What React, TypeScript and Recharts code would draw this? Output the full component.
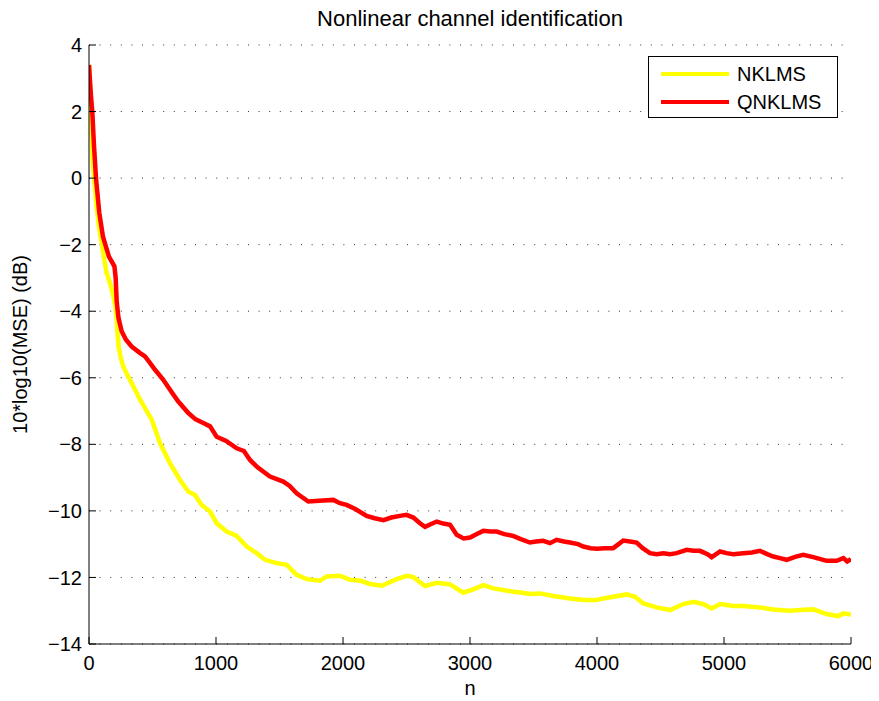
import { CartesianGrid, Line, LineChart, XAxis, YAxis } from "recharts";

// learning curves, MSE in dB against iteration n
const nklmsN = [
  0, 10, 20, 29, 45, 61, 80, 100, 120, 139, 165, 192, 205, 218, 225, 235, 250, 270, 300, 336, 375, 402, 494,
  559, 638, 717, 782, 835, 887, 953, 1005, 1084, 1163, 1242, 1320, 1386, 1478, 1557, 1635, 1714, 1819, 1871,
  1976, 2055, 2140, 2213, 2305, 2423, 2501, 2554, 2646, 2738, 2843, 2947, 3026, 3105, 3184, 3260, 3341, 3400,
  3472, 3551, 3656, 3787, 3892, 3998, 4050, 4128, 4234, 4299, 4365, 4470, 4575, 4680, 4759, 4837, 4903, 4969,
  5073, 5152, 5283, 5388, 5520, 5598, 5703, 5808, 5900, 5940, 5987, 6000,
];
const nklmsDb = [
  3.4, 2.6, 1.4, 0.5, -0.2, -0.9, -1.5, -1.95, -2.45, -2.85, -3.15, -3.55, -3.8, -4.25, -4.7, -5.1, -5.4,
  -5.66, -5.9, -6.16, -6.45, -6.66, -7.26, -7.96, -8.57, -9.07, -9.42, -9.52, -9.82, -10.02, -10.37, -10.62,
  -10.75, -11.07, -11.27, -11.47, -11.57, -11.62, -11.92, -12.05, -12.1, -11.97, -11.95, -12.07, -12.1, -12.2,
  -12.25, -12.05, -11.95, -11.99, -12.26, -12.16, -12.21, -12.46, -12.36, -12.23, -12.33, -12.38, -12.43,
  -12.45, -12.5, -12.48, -12.56, -12.63, -12.68, -12.68, -12.63, -12.58, -12.51, -12.58, -12.78, -12.9,
  -12.98, -12.8, -12.73, -12.8, -12.93, -12.8, -12.86, -12.86, -12.9, -12.96, -13.0, -12.98, -12.96, -13.1,
  -13.16, -13.08, -13.11, -13.08,
];

const qnklmsN = [
  0, 8, 16, 26, 39, 55, 81, 110, 157, 200, 210, 218, 232, 257, 290, 336, 400, 441, 480, 520, 585, 638, 700,
  782, 840, 900, 953, 1005, 1080, 1163, 1220, 1268, 1330, 1425, 1530, 1580, 1635, 1727, 1845, 1924, 1976,
  2029, 2100, 2186, 2250, 2318, 2380, 2449, 2500, 2554, 2606, 2646, 2690, 2738, 2790, 2843, 2895, 2950, 3000,
  3050, 3105, 3160, 3210, 3270, 3339, 3400, 3472, 3520, 3577, 3630, 3682, 3740, 3787, 3850, 3892, 3950, 4000,
  4060, 4128, 4170, 4207, 4260, 4312, 4360, 4417, 4470, 4522, 4575, 4627, 4706, 4760, 4811, 4870, 4903, 4969,
  5020, 5073, 5152, 5220, 5283, 5340, 5388, 5440, 5494, 5560, 5624, 5703, 5760, 5808, 5887, 5940, 5970, 6000,
];
const qnklmsDb = [
  3.4, 2.9, 2.45, 2.0, 1.0, 0.0, -1.04, -1.76, -2.36, -2.65, -3.0, -3.7, -4.2, -4.6, -4.85, -5.06, -5.25,
  -5.36, -5.55, -5.76, -6.06, -6.36, -6.7, -7.06, -7.25, -7.36, -7.46, -7.77, -7.9, -8.12, -8.2, -8.47, -8.7,
  -8.97, -9.12, -9.25, -9.47, -9.72, -9.69, -9.67, -9.77, -9.82, -9.95, -10.15, -10.22, -10.28, -10.2, -10.15,
  -10.12, -10.2, -10.37, -10.48, -10.4, -10.32, -10.38, -10.42, -10.72, -10.83, -10.8, -10.7, -10.6, -10.62,
  -10.62, -10.7, -10.75, -10.85, -10.95, -10.92, -10.9, -10.97, -10.87, -10.92, -10.95, -11.0, -11.07, -11.12,
  -11.14, -11.12, -11.12, -11.0, -10.89, -10.92, -10.95, -11.12, -11.27, -11.3, -11.27, -11.3, -11.27, -11.17,
  -11.2, -11.2, -11.3, -11.39, -11.22, -11.27, -11.3, -11.27, -11.25, -11.2, -11.3, -11.37, -11.42, -11.47,
  -11.38, -11.32, -11.39, -11.45, -11.5, -11.5, -11.42, -11.52, -11.45,
];

const xTicks = [0, 1000, 2000, 3000, 4000, 5000, 6000];
const yTicks = [-14, -12, -10, -8, -6, -4, -2, 0, 2, 4];

const nklmsData = nklmsN.map((n, i) => ({ n, mse: nklmsDb[i] }));
const qnklmsData = qnklmsN.map((n, i) => ({ n, mse: qnklmsDb[i] }));

const FONT = "'Liberation Sans', Arial, Helvetica, sans-serif";
const tickStyle = { fill: "#000", fontSize: 20, fontFamily: FONT };

const series = [
  { name: "NKLMS", color: "#ffff00", data: nklmsData },
  { name: "QNKLMS", color: "#ff0000", data: qnklmsData },
];

// boxed legend in the upper right corner of the axes
function LegendBox() {
  return (
    <div
      style={{
        position: "absolute",
        left: 640,
        top: 48,
        width: 188,
        height: 60,
        border: "1.5px solid #000",
        background: "#fff",
        fontSize: 20,
      }}
    >
      {series.map((s, i) => (
        <div
          key={s.name}
          style={{ position: "absolute", left: 12, top: 5 + i * 28, display: "flex", alignItems: "center", height: 24 }}
        >
          <div style={{ width: 68, height: 4.5, background: s.color, marginRight: 8 }} />
          <span style={{ color: "#000" }}>{s.name}</span>
        </div>
      ))}
    </div>
  );
}

export default function App() {
  return (
    <div style={{ position: "relative", width: 871, height: 693, fontFamily: FONT }}>
      <div
        style={{
          position: "absolute",
          left: 81,
          width: 762,
          top: -2,
          textAlign: "center",
          fontSize: 22,
          color: "#000",
        }}
      >
        Nonlinear channel identification
      </div>
      <LineChart width={871} height={693} margin={{ top: 37, right: 28, left: 0, bottom: 0 }}>
        <CartesianGrid vertical={false} stroke="#333" strokeDasharray="1 9.6" />
        <XAxis
          type="number"
          dataKey="n"
          domain={[0, 6000]}
          ticks={xTicks}
          allowDataOverflow
          height={57}
          stroke="#000"
          tick={tickStyle}
          tickSize={-7}
          tickMargin={19}
          label={{ value: "n", position: "insideBottom", offset: 6, fill: "#000", fontSize: 20, fontFamily: FONT }}
        />
        <YAxis
          type="number"
          domain={[-14, 4]}
          ticks={yTicks}
          allowDataOverflow
          width={81}
          stroke="#000"
          tick={tickStyle}
          tickSize={-7}
          tickMargin={14}
          tickFormatter={(v: number) => (v < 0 ? `\u2212${Math.abs(v)}` : `${v}`)}
          label={{
            value: "10*log10(MSE) (dB)",
            angle: -90,
            position: "insideLeft",
            offset: 12,
            style: { textAnchor: "middle" },
            fill: "#000",
            fontSize: 20,
            fontFamily: FONT,
          }}
        />
        {series.map((s) => (
          <Line
            key={s.name}
            data={s.data}
            dataKey="mse"
            name={s.name}
            type="linear"
            stroke={s.color}
            strokeWidth={4.5}
            dot={false}
            isAnimationActive={false}
          />
        ))}
      </LineChart>
      <LegendBox />
    </div>
  );
}
